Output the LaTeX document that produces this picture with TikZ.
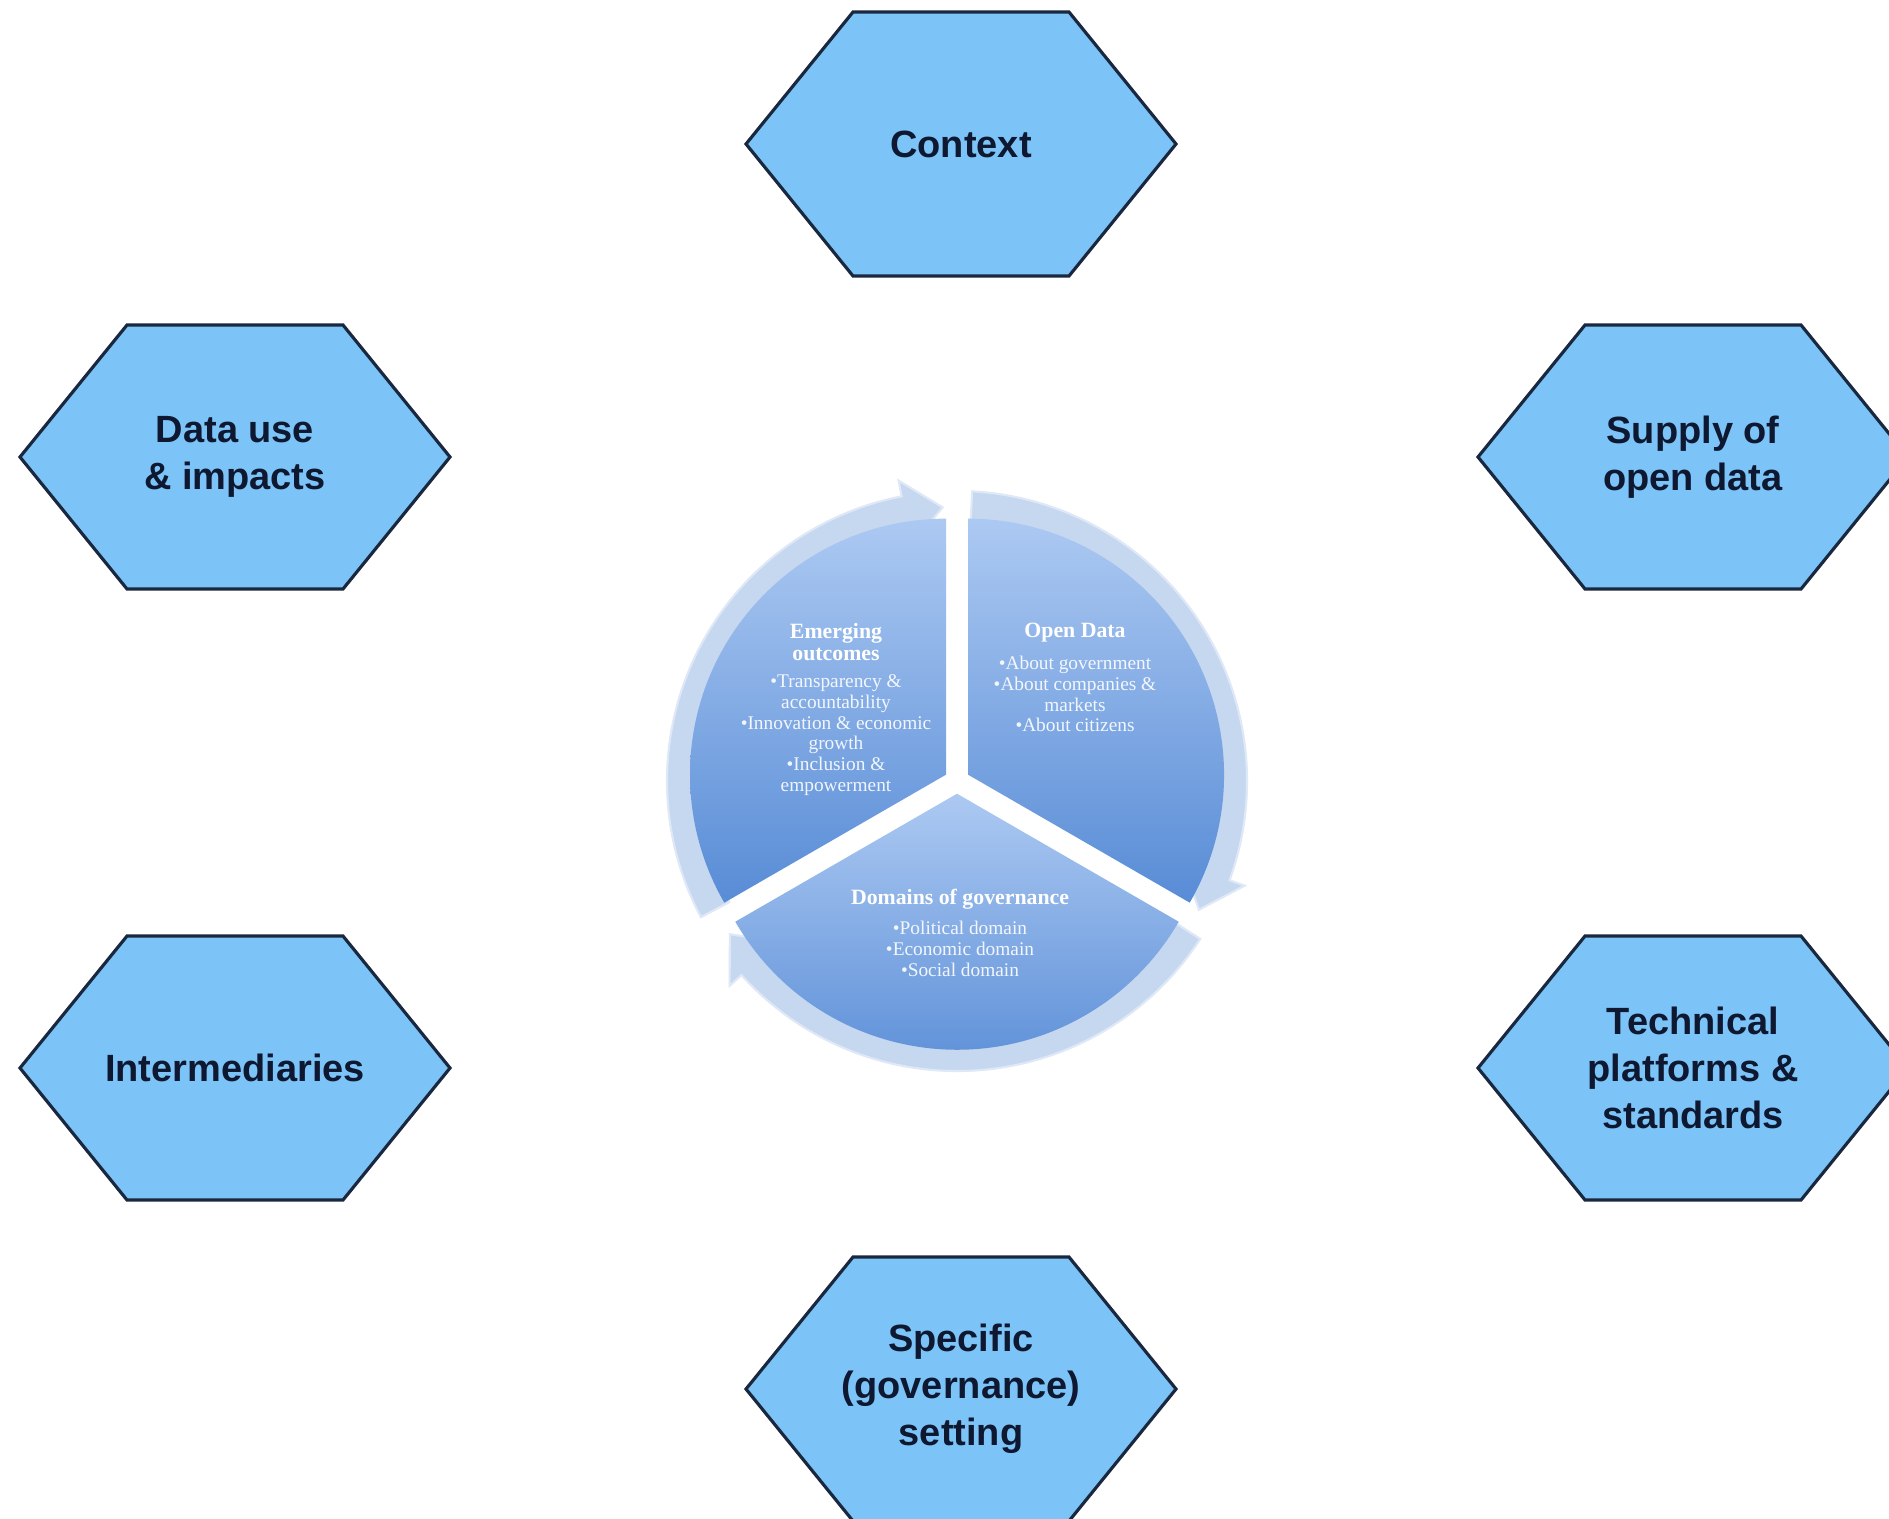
\documentclass[tikz,border=0pt]{standalone}
\usepackage{fontspec}
\newfontfamily\hexfont{Liberation Sans}
\newfontfamily\piefont{Liberation Serif}

\definecolor{hexblue}{RGB}{124,195,247}
\definecolor{hexline}{RGB}{25,40,62}
\definecolor{hexink}{RGB}{14,24,48}
\definecolor{ringblue}{RGB}{198,215,240}
\definecolor{ringedge}{RGB}{222,232,247}
\definecolor{pietop}{RGB}{172,201,242}
\definecolor{piebottom}{RGB}{88,140,214}

\tikzset{
    hexagon/.style={fill=hexblue, draw=hexline, line width=0.9pt, line join=miter},
    hexlabel/.style={font=\hexfont\bfseries\fontsize{10.8}{13.4}\selectfont, text=hexink, align=center},
    ringarrow/.style={fill=ringblue, draw=ringedge, line width=0.6pt},
    pieslice/.style={top color=pietop, bottom color=piebottom},
    pietitle/.style={font=\piefont\bfseries\fontsize{6.2}{6.5}\selectfont, text=white, align=center, inner sep=0pt},
    pielist/.style={font=\piefont\fontsize{5.5}{5.9}\selectfont, text=white, text opacity=0.9, align=center, inner sep=0pt}
}

% hexagon with its label: name, x, y, text
\newcommand{\hexbox}[4]{%
    \draw[hexagon] (#2-215,#3) -- (#2-108,#3-132) -- (#2+108,#3-132) -- (#2+215,#3)
        -- (#2+108,#3+132) -- (#2-108,#3+132) -- cycle;
    \node[hexlabel] (#1) at (#2,#3) {#4};
}

% wide arrow on the ring: start angle, end of shaft, tip
\newcommand{\ringarrow}[3]{%
    \filldraw[ringarrow] (#1:290) arc[start angle=#1, end angle=#2, radius=290] -- (#2:306)
        -- (#3:274) -- (#2:240) -- (#2:258) arc[start angle=#2, end angle=#1, radius=258] -- cycle;
}

\begin{document}
\begin{tikzpicture}[x=0.01cm,y=-0.01cm]
    % Fix the page size
    \useasboundingbox (0,0) rectangle (1889,1518);
    \fill[white] (0,0) rectangle (1889,1518);
    \clip (0,0) rectangle (1889,1518);

    % Draw the six hexagons
    \hexbox{context}{961}{144}{Context}
    \hexbox{datause}{235}{457}{Data use\\\& impacts}
    \hexbox{supply}{1693}{457}{Supply of\\open data}
    \hexbox{intermed}{235}{1068}{Intermediaries}
    \hexbox{technical}{1693}{1068}{Technical\\platforms \&\\standards}
    \hexbox{setting}{961}{1389}{Specific\\(governance)\\setting}

    \begin{scope}[shift={(957,781)},x=0.01cm,y=0.01cm]
        % Draw the ring of arrows
        \ringarrow{208}{101}{93}
        \ringarrow{87}{-20}{-28}
        \ringarrow{-33}{-138}{-146}

        % Draw the three slices of the pie
        \shade[pieslice] (150:12.7) -- ++(90:256) arc[start angle=90, end angle=210, radius=256] -- cycle;
        \shade[pieslice] (30:12.7) -- ++(-30:256) arc[start angle=-30, end angle=90, radius=256] -- cycle;
        \shade[pieslice] (270:12.7) -- ++(210:256) arc[start angle=210, end angle=330, radius=256] -- cycle;
    \end{scope}

    % Texts in the slices
    \node[pietitle] (emtitle) at (836,642) {Emerging\\outcomes};
    \node[pielist] (emlist) at (836,735) {\textbullet Transparency \&\\accountability\\\textbullet Innovation \& economic\\growth\\\textbullet Inclusion \&\\empowerment};

    \node[pietitle] (odtitle) at (1075,633) {Open Data};
    \node[pielist] (odlist) at (1075,694) {\textbullet About government\\\textbullet About companies \&\\markets\\\textbullet About citizens};

    \node[pietitle] (dgtitle) at (960,899) {Domains of governance};
    \node[pielist] (dglist) at (960,949) {\textbullet Political domain\\\textbullet Economic domain\\\textbullet Social domain};
\end{tikzpicture}
\end{document}
